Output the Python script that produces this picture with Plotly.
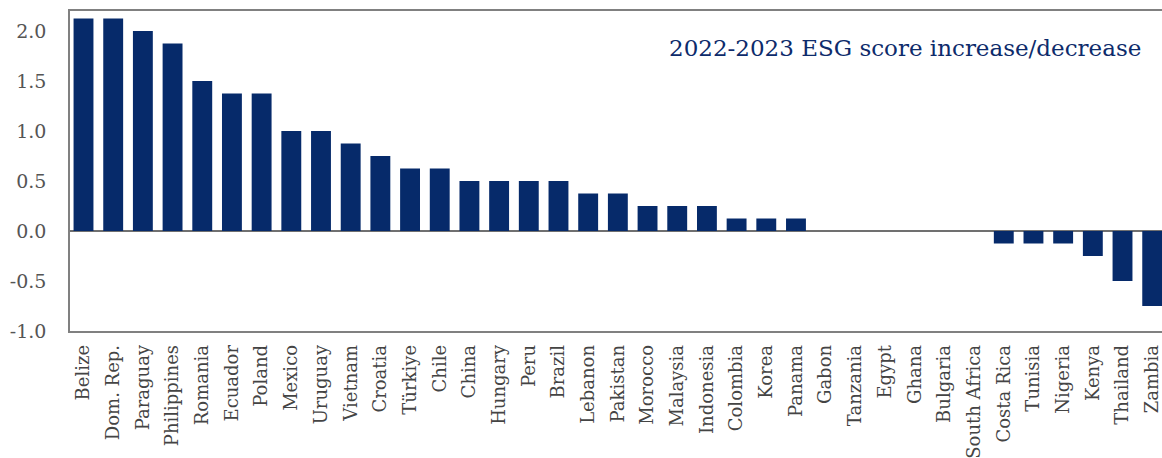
import plotly.graph_objects as go

countries = [
    "Belize", "Dom. Rep.", "Paraguay", "Philippines", "Romania", "Ecuador",
    "Poland", "Mexico", "Uruguay", "Vietnam", "Croatia", "Türkiye", "Chile",
    "China", "Hungary", "Peru", "Brazil", "Lebanon", "Pakistan", "Morocco",
    "Malaysia", "Indonesia", "Colombia", "Korea", "Panama", "Gabon",
    "Tanzania", "Egypt", "Ghana", "Bulgaria", "South Africa", "Costa Rica",
    "Tunisia", "Nigeria", "Kenya", "Thailand", "Zambia",
]
score_change = [
    2.125, 2.125, 2.0, 1.875, 1.5, 1.375,
    1.375, 1.0, 1.0, 0.875, 0.75, 0.625, 0.625,
    0.5, 0.5, 0.5, 0.5, 0.375, 0.375, 0.25,
    0.25, 0.25, 0.125, 0.125, 0.125, 0.0,
    0.0, 0.0, 0.0, 0.0, 0.0, -0.125,
    -0.125, -0.125, -0.25, -0.5, -0.75,
]
y_ticks = [-1.0, -0.5, 0.0, 0.5, 1.0, 1.5, 2.0]

NAVY = "#062a6a"
SERIF = "DejaVu Serif, Georgia, serif"

fig = go.Figure(
    go.Bar(
        x=countries,
        y=score_change,
        marker=dict(color=NAVY, line=dict(width=0)),
        width=0.67,
    )
)

fig.add_annotation(
    text="2022-2023 ESG score increase/decrease",
    xref="paper", yref="paper",
    x=0.983, y=0.885,
    xanchor="right", yanchor="middle",
    showarrow=False,
    font=dict(family=SERIF, size=23, color="#0d2b6b"),
)

fig.update_layout(
    width=1162,
    height=458,
    margin=dict(l=70, r=0, t=11, b=127),
    paper_bgcolor="white",
    plot_bgcolor="white",
    showlegend=False,
    font=dict(family=SERIF, color="#555555"),
)

# frame on left, top and bottom; the plot runs off the right edge
fig.update_xaxes(
    range=[-0.455, 36.33],
    tickangle=-90,
    tickfont=dict(size=18, color="#444444"),
    ticklabelstandoff=5,
    automargin=False,
    showline=True, linecolor="#808080", linewidth=1.5, mirror=True,
    showgrid=False, ticks="",
)

fig.update_yaxes(
    range=[-1.0, 2.2],
    tickvals=y_ticks,
    ticktext=[f"{v:.1f}" for v in y_ticks],
    tickfont=dict(size=19, color="#555555"),
    ticklabelstandoff=18,
    automargin=False,
    showline=True, linecolor="#808080", linewidth=1.5, mirror=False,
    showgrid=False, ticks="",
    zeroline=True, zerolinecolor="#707070", zerolinewidth=1.5,
)

fig.write_html("out.html")
